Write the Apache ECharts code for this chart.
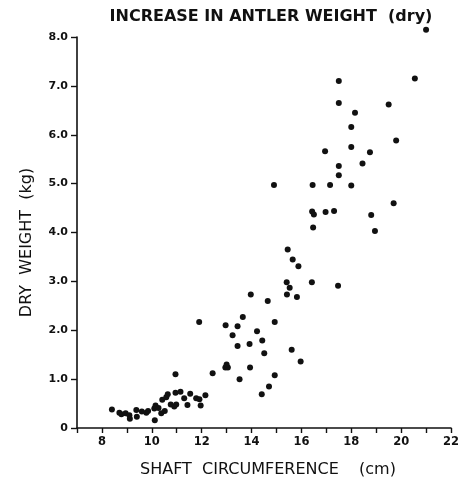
<!DOCTYPE html>
<html>
<head>
<meta charset="utf-8">
<script src="https://cdn.jsdelivr.net/npm/echarts@6/dist/echarts.min.js"></script>
<style>
  html, body { margin: 0; padding: 0; background: #fff; }
  #chart { width: 462px; height: 486px; }
</style>
</head>
<body>
<div id="chart"></div>
<script>
// Shaft circumference (cm) of each antler
const circumference = [
  8.4, 8.7, 8.78, 8.95, 9.1, 9.12, 9.38, 9.4, 9.6, 9.78, 9.85, 10.12, 10.1, 10.15,
  10.27, 10.38, 10.52, 10.42, 10.58, 10.64, 10.76, 10.9, 10.98, 10.95, 10.95, 11.15,
  11.3, 11.43, 11.54, 11.78, 11.91, 11.96, 12.15, 12.44, 11.9,
  12.95, 13.05, 13.0, 13.94, 13.52, 14.93, 14.7, 14.41, 13.97, 14.65, 13.65, 12.96,
  13.44, 14.93, 14.22, 13.24, 14.43, 13.44, 13.92, 14.51, 15.61, 15.97, 15.45, 15.65,
  15.88, 15.41, 15.53, 16.42, 17.47, 15.42, 15.82,
  14.9, 16.45, 17.15, 18.0, 16.43, 16.5, 16.97, 17.31, 16.47, 18.8, 18.95, 19.7,
  16.95, 17.5, 17.5, 18.45, 18.75, 18.0, 19.8, 18.0, 18.15, 19.5, 17.5, 17.5, 20.55, 21.0
];
// Dry antler weight (kg), same order as above
const dryWeight = [
  0.38, 0.31, 0.28, 0.30, 0.26, 0.19, 0.37, 0.23, 0.34, 0.31, 0.35, 0.16, 0.40, 0.46,
  0.41, 0.30, 0.35, 0.58, 0.63, 0.69, 0.48, 0.44, 0.48, 1.10, 0.72, 0.74,
  0.61, 0.47, 0.70, 0.61, 0.59, 0.46, 0.67, 1.12, 2.17,
  1.24, 1.24, 1.30, 1.24, 1.00, 1.08, 0.85, 0.69, 2.73, 2.60, 2.27, 2.10,
  2.08, 2.17, 1.98, 1.90, 1.79, 1.68, 1.72, 1.53, 1.60, 1.36, 3.65, 3.45,
  3.31, 2.98, 2.87, 2.98, 2.91, 2.73, 2.68,
  4.97, 4.97, 4.97, 4.96, 4.43, 4.37, 4.42, 4.44, 4.10, 4.36, 4.03, 4.60,
  5.66, 5.36, 5.17, 5.41, 5.64, 5.75, 5.88, 6.16, 6.45, 6.62, 6.65, 7.10, 7.15, 8.15
];
const xTickLabels = [8, 10, 12, 14, 16, 18, 20, 22];
const yTickLabels = ['0', '1.0', '2.0', '3.0', '4.0', '5.0', '6.0', '7.0', '8.0'];

const points = circumference.map((c, i) => [c, dryWeight[i]]);
const ink = '#111';
const font = 'DejaVu Sans';

const chart = echarts.init(document.getElementById('chart'), null, { renderer: 'canvas' });
chart.setOption({
  animation: false,
  backgroundColor: '#fff',
  title: {
    text: 'INCREASE IN ANTLER WEIGHT  (dry)',
    left: 266, top: 4, textAlign: 'center',
    textStyle: { fontFamily: font, fontWeight: 'bold', fontSize: 16, color: ink }
  },
  grid: { left: 77, right: 9, top: 37, bottom: 58, containLabel: false },
  xAxis: {
    type: 'value', min: 7, max: 22, interval: 1,
    name: 'SHAFT  CIRCUMFERENCE    (cm)',
    nameLocation: 'middle', nameGap: 34,
    nameTextStyle: { fontFamily: font, fontSize: 16, color: ink, padding: [0, 0, 0, 8] },
    splitLine: { show: false },
    axisLine: { lineStyle: { color: ink, width: 1.6 } },
    axisTick: { length: 5, lineStyle: { color: ink, width: 1.4 } },
    axisLabel: {
      margin: 8, fontFamily: font, fontSize: 11.5, fontWeight: 'bold', color: ink,
      formatter: v => (xTickLabels.indexOf(v) >= 0 ? String(v) : '')
    }
  },
  yAxis: {
    type: 'value', min: 0, max: 8, interval: 1,
    name: 'DRY  WEIGHT  (kg)',
    nameLocation: 'middle', nameGap: 42,
    nameTextStyle: { fontFamily: font, fontSize: 16, color: ink, padding: [0, 20, 0, 0] },
    splitLine: { show: false },
    axisLine: { show: true, lineStyle: { color: ink, width: 1.6 } },
    axisTick: { show: true, length: 6, lineStyle: { color: ink, width: 1.4 } },
    axisLabel: {
      margin: 9, fontFamily: font, fontSize: 11, fontWeight: 'bold', color: ink,
      formatter: v => yTickLabels[Math.round(v)]
    }
  },
  series: [{
    type: 'scatter',
    data: points,
    clip: false,
    symbol: 'circle',
    symbolSize: 6,
    itemStyle: { color: ink, opacity: 1 }
  }]
});
</script>
</body>
</html>
